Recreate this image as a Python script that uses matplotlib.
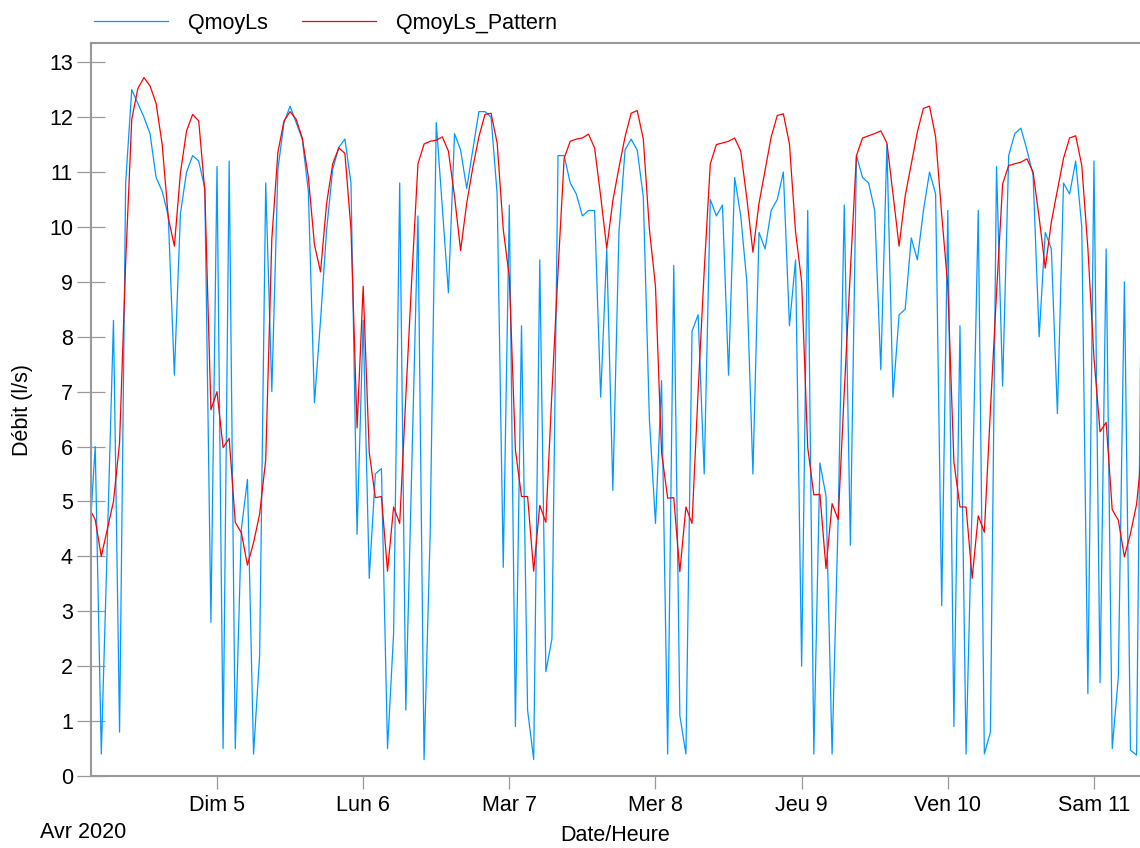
import numpy as np
import pandas as pd
import matplotlib
matplotlib.use('Agg')
import matplotlib.pyplot as plt
import matplotlib.dates as mdates

plt.rcParams['font.family'] = ['Liberation Sans', 'DejaVu Sans']

# hourly values, from 2020-04-04 03:00 to 2020-04-11 08:00
qmoy_sat4 = [4.2, 6.0, 0.4, 4.3, 8.3, 0.8, 10.8, 12.5, 12.25, 12.0, 11.7, 10.9,
             10.65, 10.2, 7.3, 10.25, 11.0, 11.3, 11.2, 10.7, 2.8]
qmoy_sun5 = [11.1, 0.5, 11.2, 0.5, 4.5, 5.4, 0.4, 2.2, 10.8, 7.0, 11.05, 11.9,
             12.2, 11.9, 11.6, 10.65, 6.8, 8.3, 9.95, 11.05, 11.45, 11.6, 10.8, 4.4]
qmoy_mon6 = [8.3, 3.6, 5.5, 5.6, 0.5, 2.6, 10.8, 1.2, 5.7, 10.2, 0.3, 4.4,
             11.9, 10.35, 8.8, 11.7, 11.4, 10.7, 11.4, 12.1, 12.1, 12.0, 10.6, 3.8]
qmoy_tue7 = [10.4, 0.9, 8.2, 1.2, 0.3, 9.4, 1.9, 2.5, 11.3, 11.3, 10.8, 10.6,
             10.2, 10.3, 10.3, 6.9, 9.6, 5.2, 9.9, 11.4, 11.6, 11.4, 10.55, 6.5]
qmoy_wed8 = [4.6, 7.2, 0.4, 9.3, 1.1, 0.4, 8.1, 8.4, 5.5, 10.5, 10.2, 10.4,
             7.3, 10.9, 10.2, 9.0, 5.5, 9.9, 9.6, 10.3, 10.5, 11.0, 8.2, 9.4]
qmoy_thu9 = [2.0, 10.3, 0.4, 5.7, 5.1, 0.4, 4.7, 10.4, 4.2, 11.3, 10.9, 10.8,
             10.3, 7.4, 11.5, 6.9, 8.4, 8.5, 9.8, 9.4, 10.3, 11.0, 10.6, 3.1]
qmoy_fri10 = [10.3, 0.9, 8.2, 0.4, 5.0, 10.3, 0.4, 0.8, 11.1, 7.1, 11.3, 11.7,
              11.8, 11.4, 10.95, 8.0, 9.9, 9.6, 6.6, 10.8, 10.6, 11.2, 10.0, 1.5]
qmoy_sat11 = [11.2, 1.7, 9.6, 0.5, 1.8, 9.0, 0.47, 0.38, 11.5]

pat_sat4 = [4.88, 4.67, 4.0, 4.5, 5.0, 6.07, 9.35, 11.96, 12.52, 12.72, 12.57, 12.25,
            11.5, 10.17, 9.65, 10.99, 11.75, 12.05, 11.93, 10.65, 6.67]
pat_sun5 = [7.0, 5.98, 6.15, 4.62, 4.43, 3.84, 4.25, 4.77, 5.76, 9.78, 11.36, 11.93,
            12.1, 11.96, 11.62, 10.91, 9.68, 9.18, 10.43, 11.15, 11.44, 11.34, 9.96, 6.34]
pat_mon6 = [8.92, 5.89, 5.07, 5.09, 3.73, 4.9, 4.6, 6.9, 9.1, 11.15, 11.51, 11.56,
            11.58, 11.64, 11.38, 10.56, 9.57, 10.43, 11.08, 11.64, 12.05, 12.07, 11.53, 9.96]
pat_tue7 = [9.09, 5.94, 5.09, 5.09, 3.73, 4.93, 4.62, 7.0, 9.2, 11.25, 11.56, 11.6,
            11.62, 11.69, 11.44, 10.56, 9.61, 10.48, 11.08, 11.64, 12.07, 12.12, 11.6, 9.96]
pat_wed8 = [8.92, 5.89, 5.06, 5.07, 3.72, 4.9, 4.6, 7.0, 9.2, 11.15, 11.5, 11.53,
            11.56, 11.62, 11.38, 10.52, 9.54, 10.43, 11.04, 11.64, 12.03, 12.06, 11.51, 9.91]
pat_thu9 = [9.0, 5.98, 5.12, 5.13, 3.78, 4.96, 4.67, 7.0, 9.2, 11.3, 11.62, 11.66,
            11.7, 11.75, 11.53, 10.6, 9.65, 10.56, 11.15, 11.73, 12.16, 12.2, 11.64, 10.22]
pat_fri10 = [8.92, 5.72, 4.9, 4.9, 3.6, 4.74, 4.44, 6.67, 8.8, 10.78, 11.12, 11.15,
             11.18, 11.24, 11.0, 10.17, 9.25, 10.09, 10.67, 11.25, 11.62, 11.66, 11.12, 9.61]
pat_sat11 = [7.62, 6.27, 6.44, 4.85, 4.66, 3.99, 4.42, 4.95, 6.06]

day_labels = ['Dim 5', 'Lun 6', 'Mar 7', 'Mer 8', 'Jeu 9', 'Ven 10', 'Sam 11']

qmoy = (qmoy_sat4 + qmoy_sun5 + qmoy_mon6 + qmoy_tue7 + qmoy_wed8
        + qmoy_thu9 + qmoy_fri10 + qmoy_sat11)
pattern = (pat_sat4 + pat_sun5 + pat_mon6 + pat_tue7 + pat_wed8
           + pat_thu9 + pat_fri10 + pat_sat11)
times = pd.date_range('2020-04-04 03:00', periods=len(qmoy), freq='h')

fig = plt.figure(figsize=(11.4, 8.48), dpi=100)
ax = fig.add_axes([91 / 1140, 1 - 776 / 848, 1 - 91 / 1140, (776 - 43) / 848])

ax.plot(times, qmoy, color='#0099ff', lw=0.9, label='QmoyLs')
ax.plot(times, pattern, color='#ff0000', lw=0.9, label='QmoyLs_Pattern')

# axis limits (view starts/ends mid-hour)
start = pd.Timestamp('2020-04-05 00:00')
ax.set_xlim(start - pd.Timedelta(hours=20.69), start + pd.Timedelta(hours=151.56))
ax.set_ylim(0, 13.35)

day_ticks = pd.date_range('2020-04-05', periods=len(day_labels), freq='D')
ax.set_xticks(day_ticks)
ax.set_xticklabels(day_labels)
ax.set_yticks(range(0, 14))

grey = '#999999'
for side in ['left', 'bottom', 'top']:
    ax.spines[side].set_color(grey)
    ax.spines[side].set_linewidth(1.5)
ax.spines['right'].set_visible(False)

ax.tick_params(axis='y', direction='inout', length=20, width=0.9, color=grey,
               pad=3, labelsize=15.5)
ax.tick_params(axis='x', direction='out', length=9.5, width=0.9, color=grey,
               pad=4, labelsize=15.5)

ax.set_ylabel('Débit (l/s)', fontsize=15.5)
ax.yaxis.set_label_coords(-0.055, 0.5)
ax.set_xlabel('Date/Heure', fontsize=15.5)
ax.xaxis.set_label_coords(0.5, -0.067)
fig.text(40 / 1140, 1 - 833 / 848, 'Avr 2020', fontsize=15.5, va='center', ha='left')

fig.legend(loc='center left', bbox_to_anchor=(94 / 1140, 1 - 23 / 848), ncol=2,
           frameon=False, fontsize=15.5, handlelength=3.45, handletextpad=0.9,
           columnspacing=1.6, borderpad=0, borderaxespad=0)

fig.savefig('out.png', dpi=100)
